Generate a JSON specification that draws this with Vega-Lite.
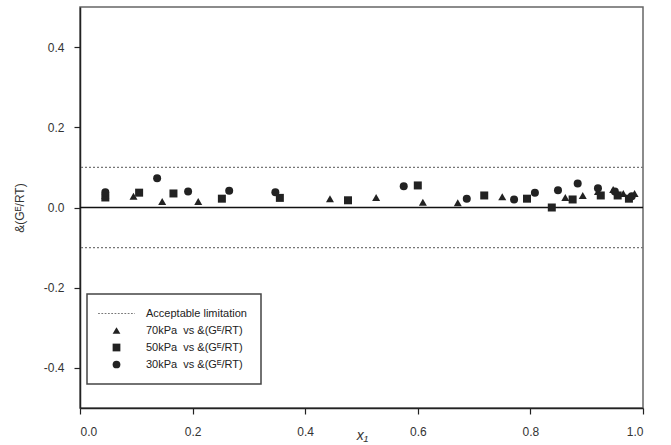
{
  "$schema": "https://vega.github.io/schema/vega-lite/v6.json",
  "width": 563,
  "height": 401,
  "autosize": {"type": "none"},
  "padding": {"left": 80, "top": 7, "right": 28, "bottom": 37},
  "background": "white",
  "config": {
    "font": "Liberation Sans",
    "view": {"stroke": "#666", "strokeWidth": 1.5},
    "axis": {
      "domainColor": "#222",
      "domainWidth": 1.5,
      "tickColor": "#222",
      "tickWidth": 1.2,
      "tickSize": 6,
      "labelFont": "Liberation Sans",
      "labelFontSize": 12,
      "labelColor": "#333",
      "titleFont": "Liberation Sans",
      "titleColor": "#333",
      "titleFontWeight": "normal",
      "grid": false
    },
    "legend": {
      "orient": "none",
      "legendX": 7,
      "legendY": 287,
      "strokeColor": "#444",
      "strokeWidth": 1.5,
      "fillColor": "white",
      "padding": 14,
      "labelFont": "Liberation Sans",
      "labelFontSize": 11,
      "labelColor": "#222",
      "symbolSize": 60,
      "symbolOffset": 10,
      "labelOffset": 24,
      "rowPadding": 5,
      "symbolStrokeWidth": 0,
      "title": null
    }
  },
  "datasets": {
    "points": [
      {"x": 0.045, "y": 0.030, "series": "70kPa\u00a0 vs &(Gᴱ/RT)"},
      {"x": 0.095, "y": 0.028, "series": "70kPa\u00a0 vs &(Gᴱ/RT)"},
      {"x": 0.146, "y": 0.015, "series": "70kPa\u00a0 vs &(Gᴱ/RT)"},
      {"x": 0.210, "y": 0.015, "series": "70kPa\u00a0 vs &(Gᴱ/RT)"},
      {"x": 0.444, "y": 0.022, "series": "70kPa\u00a0 vs &(Gᴱ/RT)"},
      {"x": 0.526, "y": 0.025, "series": "70kPa\u00a0 vs &(Gᴱ/RT)"},
      {"x": 0.609, "y": 0.013, "series": "70kPa\u00a0 vs &(Gᴱ/RT)"},
      {"x": 0.671, "y": 0.012, "series": "70kPa\u00a0 vs &(Gᴱ/RT)"},
      {"x": 0.750, "y": 0.027, "series": "70kPa\u00a0 vs &(Gᴱ/RT)"},
      {"x": 0.862, "y": 0.025, "series": "70kPa\u00a0 vs &(Gᴱ/RT)"},
      {"x": 0.893, "y": 0.030, "series": "70kPa\u00a0 vs &(Gᴱ/RT)"},
      {"x": 0.920, "y": 0.040, "series": "70kPa\u00a0 vs &(Gᴱ/RT)"},
      {"x": 0.947, "y": 0.045, "series": "70kPa\u00a0 vs &(Gᴱ/RT)"},
      {"x": 0.965, "y": 0.035, "series": "70kPa\u00a0 vs &(Gᴱ/RT)"},
      {"x": 0.985, "y": 0.035, "series": "70kPa\u00a0 vs &(Gᴱ/RT)"},
      {"x": 0.045, "y": 0.025, "series": "50kPa\u00a0 vs &(Gᴱ/RT)"},
      {"x": 0.105, "y": 0.037, "series": "50kPa\u00a0 vs &(Gᴱ/RT)"},
      {"x": 0.166, "y": 0.035, "series": "50kPa\u00a0 vs &(Gᴱ/RT)"},
      {"x": 0.252, "y": 0.022, "series": "50kPa\u00a0 vs &(Gᴱ/RT)"},
      {"x": 0.355, "y": 0.024, "series": "50kPa\u00a0 vs &(Gᴱ/RT)"},
      {"x": 0.476, "y": 0.018, "series": "50kPa\u00a0 vs &(Gᴱ/RT)"},
      {"x": 0.600, "y": 0.055, "series": "50kPa\u00a0 vs &(Gᴱ/RT)"},
      {"x": 0.718, "y": 0.030, "series": "50kPa\u00a0 vs &(Gᴱ/RT)"},
      {"x": 0.794, "y": 0.022, "series": "50kPa\u00a0 vs &(Gᴱ/RT)"},
      {"x": 0.838, "y": 0.000, "series": "50kPa\u00a0 vs &(Gᴱ/RT)"},
      {"x": 0.875, "y": 0.020, "series": "50kPa\u00a0 vs &(Gᴱ/RT)"},
      {"x": 0.925, "y": 0.030, "series": "50kPa\u00a0 vs &(Gᴱ/RT)"},
      {"x": 0.955, "y": 0.030, "series": "50kPa\u00a0 vs &(Gᴱ/RT)"},
      {"x": 0.975, "y": 0.022, "series": "50kPa\u00a0 vs &(Gᴱ/RT)"},
      {"x": 0.045, "y": 0.038, "series": "30kPa\u00a0 vs &(Gᴱ/RT)"},
      {"x": 0.137, "y": 0.073, "series": "30kPa\u00a0 vs &(Gᴱ/RT)"},
      {"x": 0.192, "y": 0.040, "series": "30kPa\u00a0 vs &(Gᴱ/RT)"},
      {"x": 0.265, "y": 0.042, "series": "30kPa\u00a0 vs &(Gᴱ/RT)"},
      {"x": 0.347, "y": 0.038, "series": "30kPa\u00a0 vs &(Gᴱ/RT)"},
      {"x": 0.575, "y": 0.053, "series": "30kPa\u00a0 vs &(Gᴱ/RT)"},
      {"x": 0.687, "y": 0.022, "series": "30kPa\u00a0 vs &(Gᴱ/RT)"},
      {"x": 0.771, "y": 0.020, "series": "30kPa\u00a0 vs &(Gᴱ/RT)"},
      {"x": 0.808, "y": 0.037, "series": "30kPa\u00a0 vs &(Gᴱ/RT)"},
      {"x": 0.849, "y": 0.043, "series": "30kPa\u00a0 vs &(Gᴱ/RT)"},
      {"x": 0.884, "y": 0.060, "series": "30kPa\u00a0 vs &(Gᴱ/RT)"},
      {"x": 0.920, "y": 0.048, "series": "30kPa\u00a0 vs &(Gᴱ/RT)"},
      {"x": 0.950, "y": 0.040, "series": "30kPa\u00a0 vs &(Gᴱ/RT)"},
      {"x": 0.980, "y": 0.028, "series": "30kPa\u00a0 vs &(Gᴱ/RT)"}
    ],
    "limits": [{"y": 0.1}, {"y": -0.1}],
    "zero": [{"y": 0}]
  },
  "layer": [
    {
      "data": {"name": "limits"},
      "mark": {"type": "rule", "strokeDash": [2, 2], "color": "#777", "strokeWidth": 1.2},
      "encoding": {
        "y": {"field": "y", "type": "quantitative", "scale": {"domain": [-0.5, 0.5], "nice": false}}
      }
    },
    {
      "data": {"name": "zero"},
      "mark": {"type": "rule", "color": "#111", "strokeWidth": 1.5},
      "encoding": {
        "y": {"field": "y", "type": "quantitative"}
      }
    },
    {
      "data": {"name": "points"},
      "mark": {"type": "point", "filled": true, "opacity": 1, "size": 64, "strokeWidth": 0},
      "encoding": {
        "x": {
          "field": "x",
          "type": "quantitative",
          "scale": {"domain": [0, 1], "nice": false},
          "axis": {
            "values": [0, 0.2, 0.4, 0.6, 0.8, 1.0],
            "format": ".1f",
            "labelPadding": 12,
            "title": "x₁",
            "titleFontStyle": "italic",
            "titleFontSize": 14,
            "titleX": 282,
            "titleY": 27,
            "titleBaseline": "middle"
          }
        },
        "y": {
          "field": "y",
          "type": "quantitative",
          "axis": {
            "values": [-0.4, -0.2, 0, 0.2, 0.4],
            "format": ".1f",
            "labelExpr": "replace(datum.label, '−', '-')",
            "labelPadding": 10,
            "title": "&(Gᴱ/RT)",
            "titleFontSize": 12,
            "titlePadding": 17
          }
        },
        "shape": {
          "field": "series",
          "type": "nominal",
          "scale": {
            "domain": ["Acceptable limitation", "70kPa\u00a0 vs &(Gᴱ/RT)", "50kPa\u00a0 vs &(Gᴱ/RT)", "30kPa\u00a0 vs &(Gᴱ/RT)"],
            "range": [
              "M-4.75,-0.15h0.45v0.3h-0.45Z M-3.9,-0.15h0.45v0.3h-0.45Z M-3.05,-0.15h0.45v0.3h-0.45Z M-2.2,-0.15h0.45v0.3h-0.45Z M-1.35,-0.15h0.45v0.3h-0.45Z M-0.5,-0.15h0.45v0.3h-0.45Z M0.35,-0.15h0.45v0.3h-0.45Z M1.2,-0.15h0.45v0.3h-0.45Z M2.05,-0.15h0.45v0.3h-0.45Z M2.9,-0.15h0.45v0.3h-0.45Z M3.75,-0.15h0.45v0.3h-0.45Z M4.6,-0.15h0.15v0.3h-0.15Z",
              "triangle-up",
              "square",
              "circle"
            ]
          }
        },
        "color": {
          "field": "series",
          "type": "nominal",
          "scale": {
            "domain": ["Acceptable limitation", "70kPa\u00a0 vs &(Gᴱ/RT)", "50kPa\u00a0 vs &(Gᴱ/RT)", "30kPa\u00a0 vs &(Gᴱ/RT)"],
            "range": ["#777", "#222", "#222", "#222"]
          }
        }
      }
    }
  ]
}
